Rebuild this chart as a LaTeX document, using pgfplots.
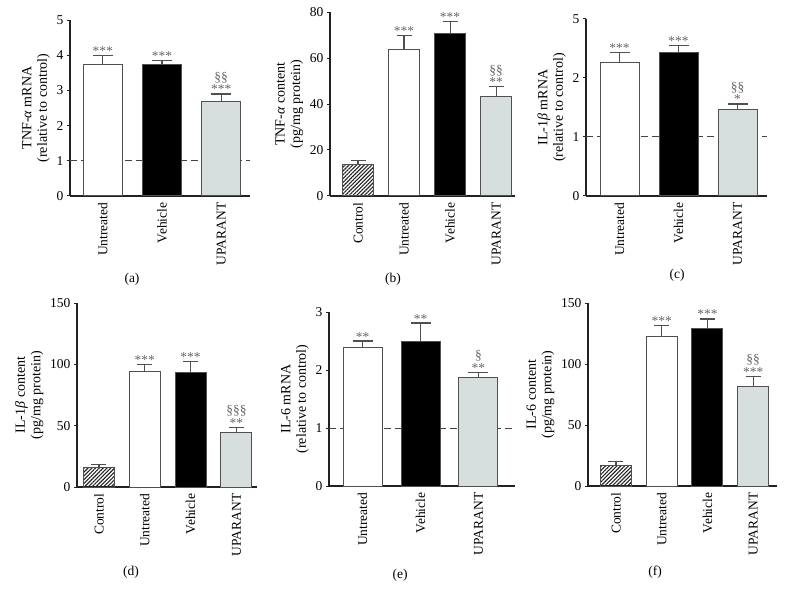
\documentclass[border=0pt]{standalone}
\usepackage{fontspec}
\setmainfont{Liberation Serif}
\usepackage{pgfplots}
\pgfplotsset{compat=1.18}
\usetikzlibrary{patterns.meta}
\definecolor{axcol}{HTML}{222222}
\definecolor{edgecol}{HTML}{505050}
\definecolor{upcol}{HTML}{D7DFDE}
\definecolor{starcol}{HTML}{666666}
\definecolor{dashcol}{HTML}{444444}
\newcommand\tf{\fontsize{13.5}{16}\selectfont}
\newcommand\lf{\fontsize{14}{15.5}\selectfont}
\newcommand\sig[3]{\node[anchor=base,inner sep=0pt,text=starcol,font=\tf] at (axis cs:#1,#2) {#3};}
\newcommand\sigg[4]{\node[anchor=base,inner sep=0pt,text=starcol,font=\tf] at (axis cs:#1,#2) {#3};
  \node[anchor=base,inner sep=0pt,text=starcol,font=\tf,yshift=12.5pt] at (axis cs:#1,#2) {#4};}
\pgfplotsset{
  panel/.style={
    scale only axis, axis x line*=bottom, axis y line*=left,
    ymin=0, tick align=outside, major tick length=3pt,
    xtick style={draw=none}, ytick style={draw=axcol, line width=1pt},
    axis line style={draw=axcol, line width=1.2pt},
    x tick label style={rotate=90, anchor=east, font=\tf},
    y tick label style={font=\tf},
    ylabel style={align=center, font=\lf},
    /pgf/number format/assume math mode=true,
    clip=false,
  },
  bars/.style={ybar, bar shift=0pt, draw=edgecol, line width=1pt,
    error bars/y dir=plus, error bars/y explicit,
    error bars/error bar style={draw=edgecol, line width=1.2pt},
    error bars/error mark options={rotate=90, draw=edgecol, line width=1.2pt, mark size=#1}},
  dline/.style={draw=dashcol, line width=1pt, dash pattern=on 7pt off 4pt},
}
\begin{document}
\begin{tikzpicture}[x=1pt,y=1pt]
\path[use as bounding box] (0,0) rectangle (785,598);
% (a)
\begin{axis}[panel, at={(70pt,402pt)}, anchor=south west, width=180pt, height=176pt,
  xmin=-0.555, xmax=2.487, ymax=5, ytick={0,1,2,3,4,5},
  xtick={0,1,2}, xticklabels={Untreated,Vehicle,UPARANT}, bar width=39pt,
  ylabel={TNF-\textit{α} mRNA\\(relative to control)}]
\addplot[dline] coordinates {(-0.555,1) (2.487,1)};
\addplot[bars=10pt, fill=white] coordinates {(0,3.74) +- (0,0.26)};
\addplot[bars=10pt, fill=black] coordinates {(1,3.74) +- (0,0.11)};
\addplot[bars=10pt, fill=upcol] coordinates {(2,2.68) +- (0,0.22)};
\sig{0}{4.0}{***}
\sig{1}{3.85}{***}
\sigg{2}{2.90}{***}{§§}
\end{axis}
% (b)
\begin{axis}[panel, at={(330pt,402pt)}, anchor=south west, width=185pt, height=184pt,
  xmin=-0.61, xmax=3.41, ymax=80, ytick={0,20,40,60,80},
  xtick={0,1,2,3}, xticklabels={Control,Untreated,Vehicle,UPARANT}, bar width=31pt,
  ylabel={TNF-\textit{α} content\\(pg/mg protein)}]
\addplot[bars=7.5pt, pattern={Lines[angle=45,distance=2.7pt,line width=1.1pt]}, pattern color=axcol] coordinates {(0,13.8) +- (0,1.8)};
\addplot[bars=7.5pt, fill=white] coordinates {(1,63.7) +- (0,6.2)};
\addplot[bars=7.5pt, fill=black] coordinates {(2,70.6) +- (0,5.4)};
\addplot[bars=7.5pt, fill=upcol] coordinates {(3,43.1) +- (0,4.4)};
\sig{1}{69.9}{***}
\sig{2}{76.0}{***}
\sigg{3}{47.5}{**}{§§}
\end{axis}
% (c)  (segmented y axis: 0-1-2 linear, 2-5 compressed; values in drawn units)
\begin{axis}[panel, at={(586pt,402pt)}, anchor=south west, width=181pt, height=177pt,
  xmin=-0.57, xmax=2.5, ymax=3, ytick={0,1,2,3}, yticklabels={0,1,2,5},
  xtick={0,1,2}, xticklabels={Untreated,Vehicle,UPARANT}, bar width=39pt,
  ylabel={IL-1\textit{β} mRNA\\(relative to control)}]
\addplot[dline] coordinates {(-0.57,1) (2.5,1)};
\addplot[bars=10pt, fill=white] coordinates {(0,2.26) +- (0,0.17)};
\addplot[bars=10pt, fill=black] coordinates {(1,2.43) +- (0,0.12)};
\addplot[bars=10pt, fill=upcol] coordinates {(2,1.46) +- (0,0.10)};
\sig{0}{2.43}{***}
\sig{1}{2.55}{***}
\sigg{2}{1.56}{*}{§§}
\end{axis}
% (d)
\begin{axis}[panel, at={(77pt,111pt)}, anchor=south west, width=180pt, height=184pt,
  xmin=-0.48, xmax=3.45, ymax=150, ytick={0,50,100,150},
  xtick={0,1,2,3}, xticklabels={Control,Untreated,Vehicle,UPARANT}, bar width=31pt,
  ylabel={IL-1\textit{β} content\\(pg/mg protein)}]
\addplot[bars=7.5pt, pattern={Lines[angle=45,distance=2.7pt,line width=1.1pt]}, pattern color=axcol] coordinates {(0,16.1) +- (0,2.2)};
\addplot[bars=7.5pt, fill=white] coordinates {(1,94.4) +- (0,5.2)};
\addplot[bars=7.5pt, fill=black] coordinates {(2,93.5) +- (0,9.0)};
\addplot[bars=7.5pt, fill=upcol] coordinates {(3,44.5) +- (0,4.1)};
\sig{1}{99.6}{***}
\sig{2}{102.5}{***}
\sigg{3}{48.6}{**}{§§§}
\end{axis}
% (e)
\begin{axis}[panel, at={(329pt,112pt)}, anchor=south west, width=186pt, height=174pt,
  xmin=-0.58, xmax=2.63, ymax=3, ytick={0,1,2,3},
  xtick={0,1,2}, xticklabels={Untreated,Vehicle,UPARANT}, bar width=39pt,
  ylabel={IL-6 mRNA\\(relative to control)}]
\addplot[dline] coordinates {(-0.58,1) (2.63,1)};
\addplot[bars=10pt, fill=white] coordinates {(0,2.39) +- (0,0.11)};
\addplot[bars=10pt, fill=black] coordinates {(1,2.50) +- (0,0.31)};
\addplot[bars=10pt, fill=upcol] coordinates {(2,1.87) +- (0,0.09)};
\sig{0}{2.50}{**}
\sig{1}{2.81}{**}
\sigg{2}{1.96}{**}{§}
\end{axis}
% (f)
\begin{axis}[panel, at={(588pt,112pt)}, anchor=south west, width=189pt, height=183pt,
  xmin=-0.61, xmax=3.52, ymax=150, ytick={0,50,100,150},
  xtick={0,1,2,3}, xticklabels={Control,Untreated,Vehicle,UPARANT}, bar width=31pt,
  ylabel={IL-6 content\\(pg/mg protein)}]
\addplot[bars=7.5pt, pattern={Lines[angle=45,distance=2.7pt,line width=1.1pt]}, pattern color=axcol] coordinates {(0,16.4) +- (0,3.5)};
\addplot[bars=7.5pt, fill=white] coordinates {(1,122.7) +- (0,9.0)};
\addplot[bars=7.5pt, fill=black] coordinates {(2,129.0) +- (0,7.9)};
\addplot[bars=7.5pt, fill=upcol] coordinates {(3,81.5) +- (0,8.5)};
\sig{1}{131.7}{***}
\sig{2}{136.9}{***}
\sigg{3}{90.0}{***}{§§}
\end{axis}
% panel letters
\node[font=\tf] at (132,319) {(a)};
\node[font=\tf] at (393,319) {(b)};
\node[font=\tf] at (677,323) {(c)};
\node[font=\tf] at (131,26) {(d)};
\node[font=\tf] at (400,23) {(e)};
\node[font=\tf] at (655,26) {(f)};
\end{tikzpicture}
\end{document}
